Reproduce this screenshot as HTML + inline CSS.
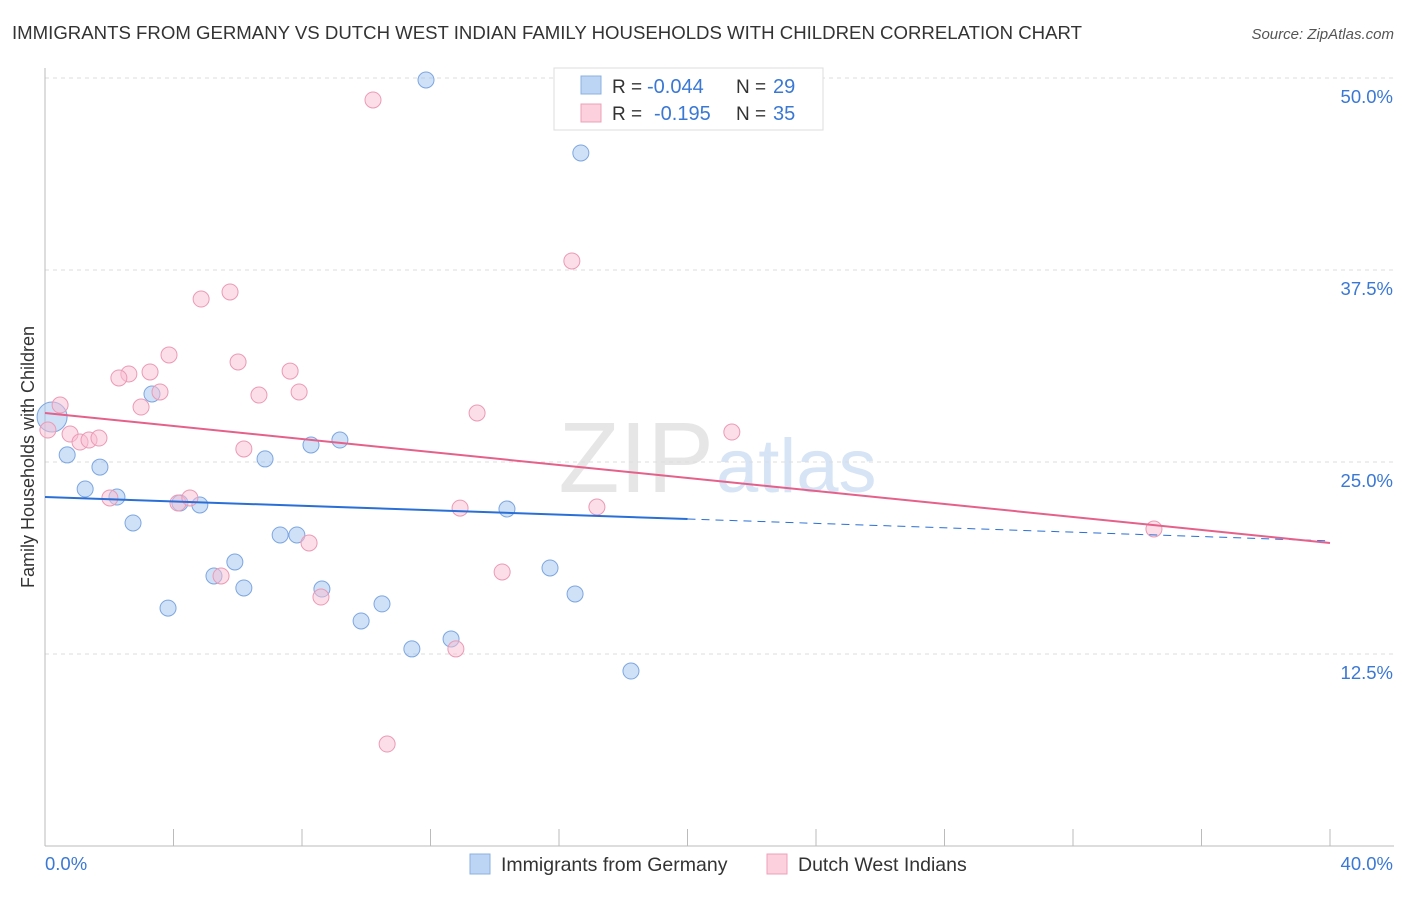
<!DOCTYPE html>
<html><head><meta charset="utf-8">
<style>
body{margin:0;background:#fff;font-family:"Liberation Sans",sans-serif;}
svg text{font-family:"Liberation Sans",sans-serif;}
</style></head>
<body>
<svg id="c" width="1406" height="892" xmlns="http://www.w3.org/2000/svg">
<text x="12" y="39" font-size="18" fill="#333" textLength="1070" lengthAdjust="spacingAndGlyphs">IMMIGRANTS FROM GERMANY VS DUTCH WEST INDIAN FAMILY HOUSEHOLDS WITH CHILDREN CORRELATION CHART</text>
<text x="1394" y="39" font-size="15" fill="#555" text-anchor="end" font-style="italic">Source: ZipAtlas.com</text>
<text x="714" y="492" font-size="100" fill="#e6e6e6" text-anchor="end" font-family="Liberation Serif">ZIP</text>
<text x="716" y="492" font-size="76" fill="#d6e4f5">atlas</text>
<g id="grid"></g>
<g id="axes"></g>
<g id="marks"></g>
<text transform="translate(34,457) rotate(-90)" font-size="18" fill="#333" text-anchor="middle">Family Households with Children</text>
<g>
<rect x="554" y="68" width="269" height="62" fill="#fff" stroke="#ddd"/>
<rect x="581" y="76" width="20" height="18" fill="#bdd5f5" stroke="#8ab0e0"/>
<rect x="581" y="104" width="20" height="18" fill="#fcd0dd" stroke="#eea0b8"/>
<text x="612" y="93" font-size="19" fill="#333">R =</text>
<text x="647" y="93" font-size="20" fill="#3a78d4">-0.044</text>
<text x="736" y="93" font-size="19" fill="#333">N =</text>
<text x="773" y="93" font-size="20" fill="#3a78d4">29</text>
<text x="612" y="120" font-size="19" fill="#333">R =</text>
<text x="654" y="120" font-size="20" fill="#3a78d4">-0.195</text>
<text x="736" y="120" font-size="19" fill="#333">N =</text>
<text x="773" y="120" font-size="20" fill="#3a78d4">35</text>
</g>
<g>
<rect x="470" y="854" width="20" height="20" fill="#bdd5f5" stroke="#8ab0e0"/>
<text x="501" y="871" font-size="19.5" fill="#333">Immigrants from Germany</text>
<rect x="767" y="854" width="20" height="20" fill="#fcd0dd" stroke="#eea0b8"/>
<text x="798" y="871" font-size="19.5" fill="#333">Dutch West Indians</text>
</g>
</svg>
<script>
const blueX=[11.86,16.68,0.22,0.69,1.71,1.25,2.24,2.74,3.33,3.83,4.20,4.82,5.26,5.91,6.19,6.85,7.32,7.84,8.28,8.62,9.18,9.84,10.49,11.42,12.64,14.38,15.72,16.50,18.24];
const blueY=[49.87,45.12,27.93,25.46,24.67,23.24,22.72,21.03,29.43,15.49,22.33,22.20,17.58,18.49,16.80,25.20,20.25,20.25,26.11,16.73,26.43,14.65,15.76,12.83,13.48,21.94,18.10,16.41,11.39];
const pinkX=[10.21,16.40,5.76,4.86,3.86,6.01,3.27,2.61,2.30,7.63,3.58,7.91,6.66,2.99,0.47,0.09,0.78,1.09,1.37,1.68,6.19,13.45,21.38,2.02,4.14,4.51,12.92,17.18,5.48,8.22,8.59,14.23,12.79,10.65,34.52];
const pinkY=[48.57,38.09,36.07,35.61,31.97,31.51,30.86,30.73,30.47,30.92,29.56,29.56,29.36,28.58,28.71,27.08,26.82,26.30,26.43,26.56,25.85,28.19,26.95,22.66,22.33,22.66,22.00,22.07,17.58,19.73,16.21,17.84,12.83,6.64,20.64];
const blueTrend=[22.72,19.86];
const pinkTrend=[28.19,19.73];
const yTicks=[12.5,25.0,37.5,50.0];
const xTickVals=[0,4,8,12,16,20,24,28,32,36,40];
const NS="http://www.w3.org/2000/svg";
const X=v=>45+v/40*1285, Y=v=>846-v/50*768;
function mk(t,a,p){const e=document.createElementNS(NS,t);for(const k in a)e.setAttribute(k,a[k]);p.appendChild(e);return e;}
const grid=document.getElementById('grid'),axes=document.getElementById('axes'),marks=document.getElementById('marks');
yTicks.forEach(v=>{
 const l=mk('line',{x1:45,x2:1394,y1:Y(v),y2:Y(v),stroke:'#ddd','stroke-dasharray':'4,4'},grid);
 
 
 const t=mk('text',{x:1393,y:Y(v)+25,'font-size':18.5,fill:'#3a78d4','text-anchor':'end'},axes);
 t.textContent=v.toFixed(1)+'%';
 
 
});
mk('line',{x1:45,x2:45,y1:68,y2:846,stroke:'#bbb'},axes);
mk('line',{x1:45,x2:1394,y1:846,y2:846,stroke:'#bbb'},axes);
xTickVals.forEach(v=>{const l=mk('line',{x1:X(v),x2:X(v),y1:829,y2:846,stroke:'#bbb'},axes);
 
 });
let t=mk('text',{x:45,y:870,'font-size':18.5,fill:'#3a78d4'},axes);t.textContent='0.0%';


t=mk('text',{x:1393,y:870,'font-size':18.5,fill:'#3a78d4','text-anchor':'end'},axes);t.textContent='40.0%';


blueX.forEach((v,i)=>{const c=mk('circle',{cx:X(v),cy:Y(blueY[i]),r:i==2?15:8,fill:'rgba(160,195,240,0.5)',stroke:'#7da6e0','stroke-width':1},marks);
 
 });
pinkX.forEach((v,i)=>{const c=mk('circle',{cx:X(v),cy:Y(pinkY[i]),r:8,fill:'rgba(250,190,210,0.5)',stroke:'#eb9ab5','stroke-width':1},marks);
 
 });
const bm=blueTrend[0]+(blueTrend[1]-blueTrend[0])*0.5;
let l=mk('line',{x1:X(0),y1:Y(blueTrend[0]),x2:X(20),y2:Y(bm),stroke:'#2a6fd6','stroke-width':2},marks);


l=mk('line',{x1:X(20),y1:Y(bm),x2:X(40),y2:Y(blueTrend[1]),stroke:'#2a6fd6','stroke-width':1,'stroke-dasharray':'8,6'},marks);


l=mk('line',{x1:X(0),y1:Y(pinkTrend[0]),x2:X(40),y2:Y(pinkTrend[1]),stroke:'#e5608a','stroke-width':2},marks);


</script>
</body></html>
